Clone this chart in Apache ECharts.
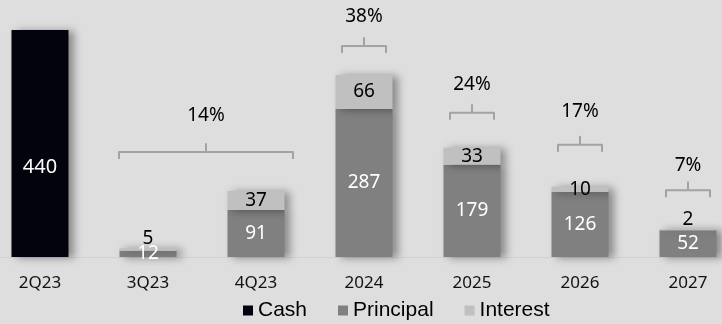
<!DOCTYPE html>
<html>
<head>
<meta charset="utf-8">
<script src="https://cdn.jsdelivr.net/npm/echarts@6/dist/echarts.min.js"></script>
<style>
  html, body { margin: 0; padding: 0; background: #dedede; overflow: hidden; width: 722px; height: 324px; }
  /* plot area runs slightly past both page edges */
  #chart { position: absolute; left: -14px; top: 0; width: 756px; height: 324px; }
</style>
</head>
<body>
<div id="chart"></div>
<script>
// Debt maturity profile: cash on hand vs. scheduled principal and interest
const categories = ['2Q23', '3Q23', '4Q23', '2024', '2025', '2026', '2027'];
const cash      = [440, '-', '-', '-', '-', '-', '-'];
const principal = ['-', 12, 91, 287, 179, 126, 52];
const interest  = ['-', 5, 37, 66, 33, 10, 2];

// Share of total maturities, grouped over category spans
const shareLabels = ['14%', '38%', '24%', '17%', '7%'];
const shareFrom   = [1, 3, 4, 5, 6];
const shareTo     = [2, 3, 4, 5, 6];

// Bracket drawing settings (pixels)
const bracketGap  = [32, 22, 28, 35, 32];
const bracketPadL = [29, 22, 22, 22, 22];
const bracketPadR = [37, 22, 22, 22, 22];
const textLift    = [43, 36, 35, 40, 32];

const COLORS = { cash: '#03030d', principal: '#808080', interest: '#c0c0c0' };
const LABEL_FONT = 'Noto Sans';

function num(v) { return typeof v === 'number' ? v : 0; }
const totals = categories.map((_, i) => num(cash[i]) + num(principal[i]) + num(interest[i]));

const bracketData = shareLabels.map((lab, k) => {
  let top = 0;
  for (let i = shareFrom[k]; i <= shareTo[k]; i++) top = Math.max(top, totals[i]);
  return [shareFrom[k], shareTo[k], top, k];
});

const shadow = {
  shadowColor: 'rgba(0,0,0,0.38)',
  shadowBlur: 8,
  shadowOffsetX: 5,
  shadowOffsetY: 1
};

const chart = echarts.init(document.getElementById('chart'));
chart.setOption({
  backgroundColor: '#dedede',
  animation: false,
  grid: { left: 0, right: 0, top: 30, bottom: 67 },
  legend: {
    left: 257,
    top: 300,
    padding: 0,
    icon: 'rect',
    itemWidth: 10,
    itemHeight: 10,
    itemGap: 31,
    textStyle: { fontFamily: 'Liberation Sans', fontSize: 21, color: '#000' },
    data: ['Cash', 'Principal', 'Interest']
  },
  xAxis: {
    type: 'category',
    data: categories,
    axisTick: { show: false },
    axisLine: { show: true, lineStyle: { color: '#d2d2d2', width: 1 } },
    axisLabel: { color: '#111', fontFamily: LABEL_FONT, fontSize: 17, margin: 18 }
  },
  yAxis: {
    type: 'value',
    min: 0,
    max: 440,
    show: false,
    splitLine: { show: false }
  },
  series: [
    {
      name: 'Cash',
      type: 'bar',
      stack: 'total',
      data: cash,
      barWidth: 57,
      itemStyle: Object.assign({ color: COLORS.cash }, shadow),
      label: {
        show: true, position: 'inside', offset: [0, 24],
        color: '#fff', fontFamily: LABEL_FONT, fontSize: 20
      }
    },
    {
      name: 'Principal',
      type: 'bar',
      stack: 'total',
      data: principal,
      barWidth: 57,
      itemStyle: Object.assign({ color: COLORS.principal }, shadow),
      label: {
        show: true, position: 'inside',
        color: '#fff', fontFamily: LABEL_FONT, fontSize: 19
      }
    },
    {
      name: 'Interest',
      type: 'bar',
      stack: 'total',
      barWidth: 57,
      data: interest.map(v => {
        if (typeof v !== 'number') return v;
        const small = v < 6;
        return {
          value: v,
          label: small ? { position: 'top', distance: 0 } : { position: 'inside' }
        };
      }),
      itemStyle: Object.assign({ color: COLORS.interest }, shadow),
      label: {
        show: true,
        color: '#000', fontFamily: LABEL_FONT, fontSize: 19
      }
    },
    {
      name: 'share',
      type: 'custom',
      clip: false,
      silent: true,
      z: 5,
      encode: { x: 0, y: 2 },
      data: bracketData,
      renderItem: function (params, api) {
        const from = api.value(0), to = api.value(1), top = api.value(2), k = api.value(3);
        const pL = api.coord([from, top]);
        const pR = api.coord([to, top]);
        const x1 = pL[0] - bracketPadL[k];
        const x2 = pR[0] + bracketPadR[k];
        const xc = (x1 + x2) / 2;
        const ye = pL[1] - bracketGap[k];
        const yh = ye - 7;
        const yn = ye - 15;
        return {
          type: 'group',
          children: [
            {
              type: 'polyline',
              shape: { points: [[x1, ye], [x1, yh], [xc, yh], [xc, yn], [xc, yh], [x2, yh], [x2, ye]] },
              style: { stroke: '#a3a3a3', lineWidth: 2, fill: null, lineJoin: 'round' }
            },
            {
              type: 'text',
              style: {
                text: shareLabels[k],
                x: xc, y: ye - textLift[k],
                align: 'center', verticalAlign: 'middle',
                fontFamily: LABEL_FONT, fontSize: 19, fill: '#000'
              }
            }
          ]
        };
      }
    }
  ]
});
</script>
</body>
</html>
